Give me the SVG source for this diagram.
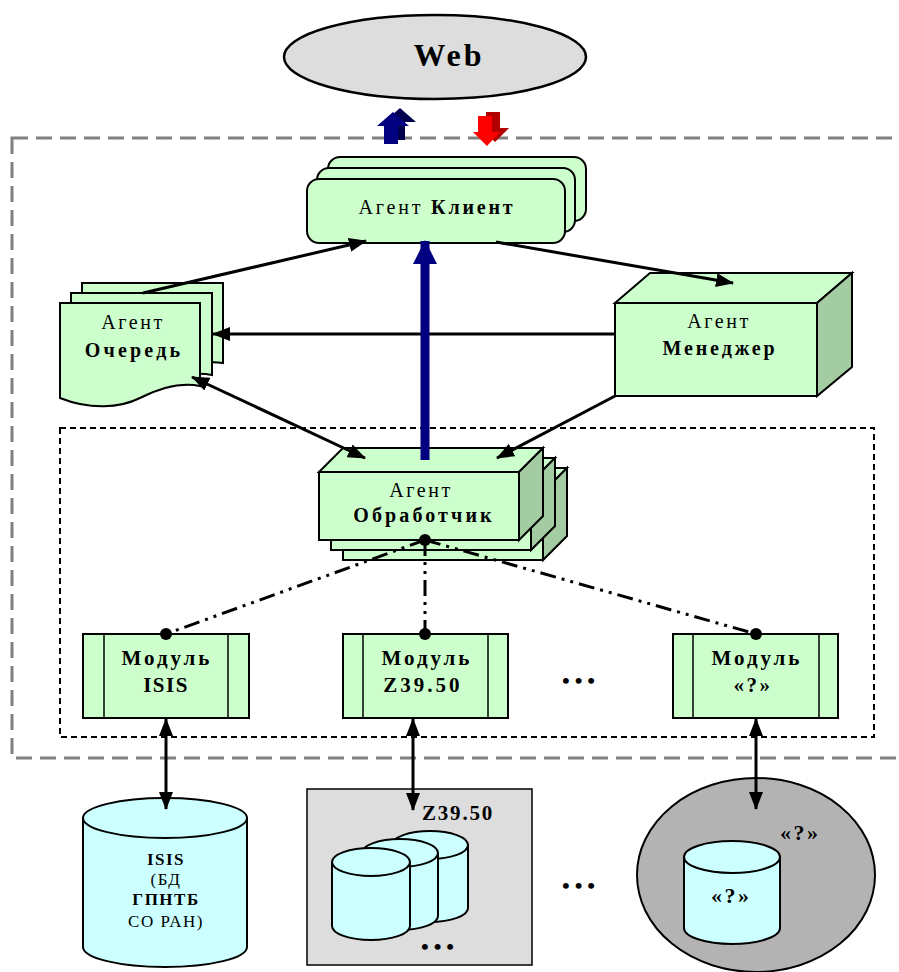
<svg xmlns="http://www.w3.org/2000/svg" width="899" height="972" viewBox="0 0 899 972">
<defs>
<style>
.t{font-family:"Liberation Serif","Times New Roman",serif;fill:#000}
.b{font-weight:bold}
.g{fill:#ccffcc;stroke:#000;stroke-width:2}
.gd{fill:#a3cca3;stroke:#000;stroke-width:2}
.cy{fill:#ccffff;stroke:#000;stroke-width:2}
.ln{stroke:#000;stroke-width:3;fill:none}
.dd{stroke:#000;stroke-width:3;fill:none;stroke-dasharray:16 6 3 6 3 6}
.ag{font-size:20px}
.md{font-size:21px;font-weight:bold}
</style>
<marker id="ah" viewBox="0 0 18 14" refX="17" refY="7" markerWidth="18" markerHeight="14" markerUnits="userSpaceOnUse" orient="auto-start-reverse">
<path d="M0,0 L18,7 L0,14 Z" fill="#000"/>
</marker>
<marker id="ahb" viewBox="0 0 24 24" refX="23" refY="12" markerWidth="24" markerHeight="24" markerUnits="userSpaceOnUse" orient="auto">
<path d="M0,0 L24,12 L0,24 Z" fill="#000080"/>
</marker>
</defs>
<rect width="899" height="972" fill="#fff"/>

<!-- boundaries -->
<rect x="12" y="138" width="900" height="620" fill="none" stroke="#808080" stroke-width="3" stroke-dasharray="16 8"/>
<rect x="60" y="428" width="814" height="309" fill="none" stroke="#000" stroke-width="2" stroke-dasharray="6 4"/>

<g id="web">
<ellipse cx="435" cy="57" rx="151" ry="42" fill="#dddddd" stroke="#000" stroke-width="2.5"/>
<text class="t b" x="449" y="66" font-size="32" letter-spacing="3" text-anchor="middle">Web</text>
</g>

<g id="io-arrows">
<path d="M391,140 L391,122 L384,122 L400,108 L416,122 L405,122 L405,140 Z" fill="#00004d"/>
<path d="M384,144 L384,126 L377,126 L393,112 L409,126 L398,126 L398,144 Z" fill="#000080"/>
<path d="M486,112 L500,112 L500,128 L509,128 L495,142 L481,128 L486,128 Z" fill="#b30000"/>
<path d="M478,116 L492,116 L492,132 L500,132 L487,146 L473,132 L478,132 Z" fill="#ff0000"/>
</g>

<g id="client">
<rect x="328" y="157" width="258" height="64" rx="12" class="g" stroke-width="3"/>
<rect x="317" y="168" width="258" height="64" rx="12" class="g" stroke-width="3"/>
<rect x="307" y="179" width="258" height="64" rx="12" class="g" stroke-width="3"/>
<text class="t ag" x="437" y="214" letter-spacing="2.8" text-anchor="middle">Агент <tspan class="b">Клиент</tspan></text>
</g>

<g id="queue">
<path d="M82,283 L223,283 L223,363 C200,360 180,368 160,378 C140,388 110,390 82,378 Z" class="g" stroke-width="1.5"/>
<path d="M71,293 L212,293 L212,375 C190,371 170,378 150,388 C130,398 100,400 71,388 Z" class="g" stroke-width="1.5"/>
<path d="M60,303 L200,303 L200,386 C180,382 160,388 140,398 C120,408 90,410 60,398 Z" class="g" stroke-width="1.5"/>
<text class="t ag" x="133" y="329" letter-spacing="2.6" text-anchor="middle">Агент</text>
<text class="t ag b" x="134" y="357" letter-spacing="3.2" text-anchor="middle">Очередь</text>
</g>

<g id="manager">
<polygon points="615,303 650,273 852,273 817,303" class="g"/>
<polygon points="817,303 852,273 852,367 817,396" class="gd"/>
<rect x="615" y="303" width="202" height="93" class="g"/>
<text class="t ag" x="719" y="328" letter-spacing="2.6" text-anchor="middle">Агент</text>
<text class="t ag b" x="720" y="355" letter-spacing="2.9" text-anchor="middle">Менеджер</text>
</g>

<g id="processor">
<polygon points="343,492 367,468 567,468 543,492" class="g"/>
<polygon points="543,492 567,468 567,536 543,560" class="gd"/>
<rect x="343" y="492" width="200" height="68" class="g"/>
<polygon points="331,482 355,458 555,458 531,482" class="g"/>
<polygon points="531,482 555,458 555,526 531,550" class="gd"/>
<rect x="331" y="482" width="200" height="68" class="g"/>
<polygon points="319,472 343,448 543,448 519,472" class="g"/>
<polygon points="519,472 543,448 543,516 519,540" class="gd"/>
<rect x="319" y="472" width="200" height="68" class="g"/>
<text class="t ag" x="421" y="497" letter-spacing="2.6" text-anchor="middle">Агент</text>
<text class="t ag b" x="424" y="522" letter-spacing="3.1" text-anchor="middle">Обработчик</text>
</g>

<g id="module-isis">
<rect x="83" y="634" width="166" height="84" class="g"/>
<line x1="104" y1="634" x2="104" y2="718" stroke="#000" stroke-width="1.5"/>
<line x1="228" y1="634" x2="228" y2="718" stroke="#000" stroke-width="1.5"/>
<text class="t md" x="167" y="665" letter-spacing="3" text-anchor="middle">Модуль</text>
<text class="t md" x="166" y="692" letter-spacing="1.5" text-anchor="middle">ISIS</text>
</g>
<g id="module-z3950">
<rect x="343" y="634" width="165" height="84" class="g"/>
<line x1="363" y1="634" x2="363" y2="718" stroke="#000" stroke-width="1.5"/>
<line x1="488" y1="634" x2="488" y2="718" stroke="#000" stroke-width="1.5"/>
<text class="t md" x="427" y="665" letter-spacing="3" text-anchor="middle">Модуль</text>
<text class="t md" x="423" y="692" letter-spacing="3" text-anchor="middle">Z39.50</text>
</g>
<g id="module-unknown">
<rect x="673" y="634" width="165" height="84" class="g"/>
<line x1="693" y1="634" x2="693" y2="718" stroke="#000" stroke-width="1.5"/>
<line x1="819" y1="634" x2="819" y2="718" stroke="#000" stroke-width="1.5"/>
<text class="t md" x="757" y="665" letter-spacing="3" text-anchor="middle">Модуль</text>
<text class="t md" x="753" y="692" letter-spacing="2.5" text-anchor="middle">«?»</text>
</g>
<text id="ellipsis-modules" class="t b" x="581" y="688" font-size="22" letter-spacing="5" text-anchor="middle">•••</text>

<g id="db-isis">
<path d="M83,818 V947 A82,20 0 0 0 247,947 V818 Z" class="cy"/>
<ellipse cx="165" cy="818" rx="82" ry="20" class="cy"/>
<text class="t b" x="166" y="865" font-size="17" letter-spacing="1.5" text-anchor="middle">ISIS</text>
<text class="t" x="166" y="885" font-size="17" letter-spacing="1.5" text-anchor="middle">(БД</text>
<text class="t b" x="166" y="905" font-size="17" letter-spacing="1.5" text-anchor="middle">ГПНТБ</text>
<text class="t" x="166" y="927" font-size="17" letter-spacing="1.5" text-anchor="middle">СО РАН)</text>
</g>

<g id="db-z3950">
<rect x="307" y="789" width="225" height="176" fill="#dddddd" stroke="#000" stroke-width="1.5"/>
<text class="t b" x="422" y="820" font-size="21" letter-spacing="1.8">Z39.50</text>
<path d="M392,845 V908 A38,14 0 0 0 468,908 V845 Z" class="cy"/>
<ellipse cx="430" cy="845" rx="38" ry="14" class="cy"/>
<path d="M362,853 V916 A38,14 0 0 0 438,916 V853 Z" class="cy"/>
<ellipse cx="400" cy="853" rx="38" ry="14" class="cy"/>
<path d="M332,862 V926 A39,14 0 0 0 410,926 V862 Z" class="cy"/>
<ellipse cx="371" cy="862" rx="39" ry="14" class="cy"/>
<text class="t b" x="440" y="954" font-size="22" letter-spacing="5" text-anchor="middle">•••</text>
</g>
<text id="ellipsis-db" class="t b" x="581" y="893" font-size="22" letter-spacing="5" text-anchor="middle">•••</text>

<g id="db-unknown">
<ellipse cx="756" cy="875" rx="119" ry="97" fill="#b3b3b3" stroke="#000" stroke-width="2"/>
<text class="t b" x="780" y="840" font-size="22" letter-spacing="2.5">«?»</text>
<path d="M684,857 V928 A48,16 0 0 0 780,928 V857 Z" class="cy"/>
<ellipse cx="732" cy="857" rx="48" ry="16" class="cy"/>
<text class="t b" x="711" y="903" font-size="22" letter-spacing="2.5">«?»</text>
</g>

<g id="connectors">
<line x1="143" y1="293" x2="366" y2="241" class="ln" marker-end="url(#ah)"/>
<line x1="496" y1="242" x2="733" y2="283" class="ln" marker-end="url(#ah)"/>
<line x1="615" y1="334" x2="213" y2="334" class="ln" marker-end="url(#ah)"/>
<line x1="192" y1="377" x2="365" y2="458" class="ln" marker-start="url(#ah)" marker-end="url(#ah)"/>
<line x1="615" y1="396" x2="497" y2="458" class="ln" marker-end="url(#ah)"/>
<line x1="425" y1="460" x2="425" y2="241" stroke="#000080" stroke-width="9" marker-end="url(#ahb)"/>
<line x1="425" y1="540" x2="166" y2="634" class="dd"/>
<line x1="425" y1="540" x2="425" y2="634" class="dd"/>
<line x1="425" y1="540" x2="756" y2="634" class="dd"/>
<circle cx="425" cy="540" r="6" fill="#000"/>
<circle cx="166" cy="634" r="6" fill="#000"/>
<circle cx="425" cy="634" r="6" fill="#000"/>
<circle cx="756" cy="634" r="6" fill="#000"/>
<line x1="166" y1="719" x2="166" y2="809" class="ln" marker-start="url(#ah)" marker-end="url(#ah)"/>
<line x1="413" y1="719" x2="413" y2="810" class="ln" marker-start="url(#ah)" marker-end="url(#ah)"/>
<line x1="756" y1="719" x2="756" y2="809" class="ln" marker-start="url(#ah)" marker-end="url(#ah)"/>
</g>
</svg>
